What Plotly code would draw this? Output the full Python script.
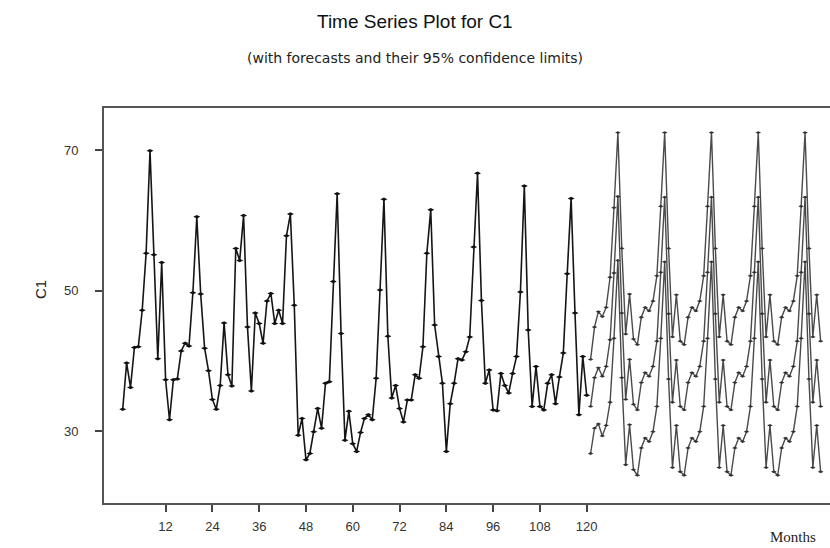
import plotly.graph_objects as go

# Observed monthly values of C1, months 1-120
months = list(range(1, 121))
c1 = [
    33.1, 39.7, 36.2, 41.9, 42.0, 47.2, 55.3, 69.9, 55.1, 40.3, 54.0, 37.3,
    31.6, 37.3, 37.4, 41.4, 42.5, 42.1, 49.7, 60.5, 49.5, 41.8, 38.6, 34.5,
    33.1, 36.5, 45.4, 38.0, 36.4, 56.0, 54.3, 60.7, 44.8, 35.7, 46.8, 45.3,
    42.5, 48.5, 49.6, 45.3, 47.2, 45.3, 57.8, 60.9, 47.9, 29.4, 31.8, 25.9,
    26.8, 29.9, 33.2, 30.4, 36.8, 37.0, 51.3, 63.8, 43.9, 28.7, 32.8, 28.2,
    27.1, 29.8, 31.8, 32.3, 31.6, 37.5, 50.1, 63.0, 43.5, 34.7, 36.5, 33.2,
    31.3, 34.4, 34.4, 38.0, 37.5, 42.0, 55.3, 61.5, 45.1, 40.6, 36.8, 27.1,
    33.9, 36.8, 40.3, 40.1, 41.3, 43.4, 56.2, 66.7, 48.6, 36.8, 38.7, 33.0,
    32.9, 38.2, 36.5, 35.4, 38.2, 40.6, 49.8, 64.9, 44.4, 33.5, 39.2, 33.5,
    33.0, 36.8, 38.0, 33.9, 37.7, 41.1, 52.4, 63.1, 46.8, 32.3, 40.6, 35.1,
]

# Forecast horizon, months 121-180
fc_months = list(range(121, 181))
forecast = [
    33.5, 37.6, 39.0, 37.8, 39.2, 43.0, 52.5, 63.4, 46.8, 34.5, 40.2, 33.8,
    33.0, 36.9, 38.3, 37.8, 39.2, 42.8, 52.6, 63.3, 46.7, 34.1, 40.1, 33.5,
    33.0, 36.9, 38.3, 37.8, 39.2, 42.8, 52.6, 63.3, 46.7, 34.1, 40.1, 33.5,
    33.0, 36.9, 38.3, 37.8, 39.2, 42.8, 52.6, 63.3, 46.7, 34.1, 40.1, 33.5,
    33.0, 36.9, 38.3, 37.8, 39.2, 42.8, 52.6, 63.3, 46.7, 34.1, 40.1, 33.5,
]
upper = [
    40.2, 44.8, 47.0, 46.3, 47.6, 51.9, 61.8, 72.5, 56.0, 43.8, 49.5, 43.1,
    42.3, 46.2, 47.6, 47.1, 48.5, 52.1, 62.0, 72.5, 56.0, 43.4, 49.4, 42.8,
    42.3, 46.2, 47.6, 47.1, 48.5, 52.1, 62.0, 72.5, 56.0, 43.4, 49.4, 42.8,
    42.3, 46.2, 47.6, 47.1, 48.5, 52.1, 62.0, 72.5, 56.0, 43.4, 49.4, 42.8,
    42.3, 46.2, 47.6, 47.1, 48.5, 52.1, 62.0, 72.5, 56.0, 43.4, 49.4, 42.8,
]
lower = [
    26.8, 30.4, 31.0, 29.3, 30.8, 34.1, 43.2, 54.3, 37.6, 25.2, 30.9, 24.5,
    23.7, 27.6, 29.0, 28.5, 29.9, 33.5, 43.2, 54.1, 37.4, 24.8, 30.8, 24.2,
    23.7, 27.6, 29.0, 28.5, 29.9, 33.5, 43.2, 54.1, 37.4, 24.8, 30.8, 24.2,
    23.7, 27.6, 29.0, 28.5, 29.9, 33.5, 43.2, 54.1, 37.4, 24.8, 30.8, 24.2,
    23.7, 27.6, 29.0, 28.5, 29.9, 33.5, 43.2, 54.1, 37.4, 24.8, 30.8, 24.2,
]

x_ticks = [12, 24, 36, 48, 60, 72, 84, 96, 108, 120]
y_ticks = [30, 50, 70]

fig = go.Figure()

marker_obs = dict(symbol="diamond-wide", size=5, color="#111111")
marker_fc = dict(symbol="diamond-wide", size=4, color="#333333")

for ys in (upper, lower, forecast):
    fig.add_trace(go.Scatter(
        x=fc_months, y=ys, mode="lines+markers",
        line=dict(color="#4a4a4a", width=1.4),
        marker=marker_fc, showlegend=False,
    ))

fig.add_trace(go.Scatter(
    x=months, y=c1, mode="lines+markers",
    line=dict(color="#151515", width=1.6),
    marker=marker_obs, showlegend=False,
))

sans = "Liberation Sans, Arial, sans-serif"
axis_font = dict(family=sans, size=13, color="#333333")

fig.update_layout(
    width=830, height=548,
    margin=dict(l=104, r=0, t=108, b=45),
    paper_bgcolor="white", plot_bgcolor="white",
    font=axis_font,
    xaxis=dict(
        range=[-3.8, 182.4], tickvals=x_ticks, ticks="outside", ticklen=7,
        tickwidth=1.5, tickcolor="#444444", showgrid=False, zeroline=False,
        showline=True, linecolor="#555555", linewidth=2, mirror=True,
        tickfont=axis_font, ticklabelstandoff=3,
    ),
    yaxis=dict(
        range=[19.75, 76.0], tickvals=y_ticks, ticks="outside", ticklen=7,
        tickwidth=1.5, tickcolor="#444444", showgrid=False, zeroline=False,
        showline=True, linecolor="#555555", linewidth=2, mirror=False,
        tickfont=axis_font, ticklabelstandoff=14,
    ),
    annotations=[
        dict(text="Time Series Plot for C1", xref="paper", yref="paper",
             x=(415 - 104) / 726, y=(503 - 22) / 395, xanchor="center", yanchor="middle",
             showarrow=False, font=dict(family=sans, size=19, color="#111111")),
        dict(text="(with forecasts and their 95% confidence limits)", xref="paper", yref="paper",
             x=(415 - 104) / 726, y=(503 - 58) / 395, xanchor="center", yanchor="middle",
             showarrow=False, font=dict(family="DejaVu Sans, sans-serif", size=14, color="#222222")),
        dict(text="C1", xref="paper", yref="paper", textangle=-90,
             x=(40 - 104) / 726, y=(503 - 290) / 395, xanchor="center", yanchor="middle",
             showarrow=False, font=dict(family=sans, size=15, color="#222222")),
        dict(text="Months", xref="paper", yref="paper",
             x=(793 - 104) / 726, y=(503 - 537) / 395, xanchor="center", yanchor="middle",
             showarrow=False, font=dict(family="Liberation Serif, Times New Roman, serif", size=15, color="#222222")),
    ],
)

fig.write_html("out.html")
